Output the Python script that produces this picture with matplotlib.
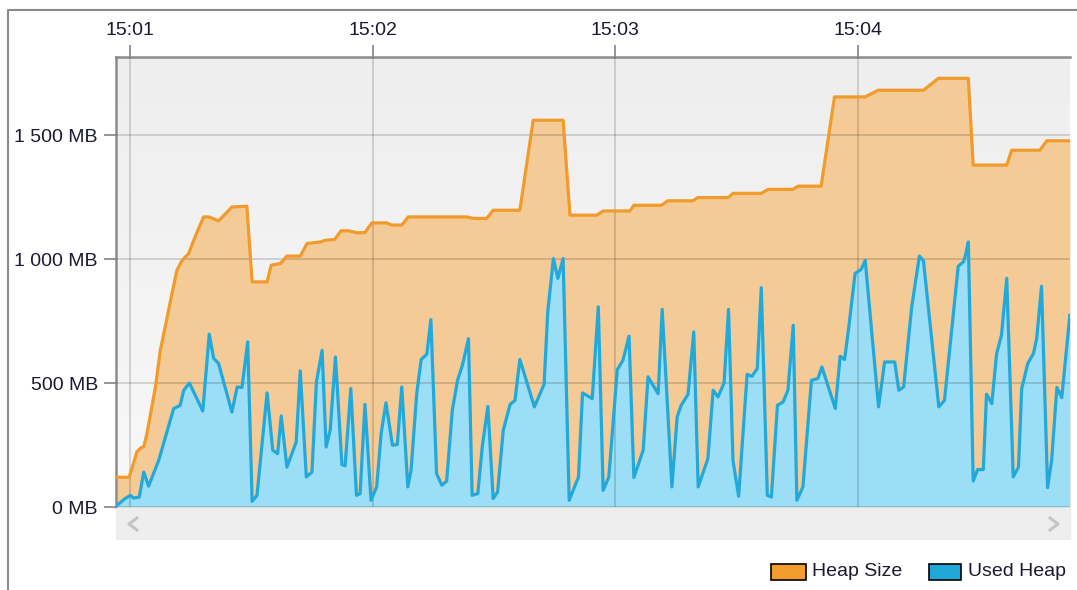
import matplotlib.pyplot as plt
import numpy as np
from matplotlib.patches import Rectangle
from matplotlib.lines import Line2D

# time in seconds after 15:00:00, memory in MB
heap_t = [56.8, 59.8, 61.7, 62.8, 63.4, 64.2, 66.3, 67.5, 68.7, 70.4, 71.6, 72.9, 74.5,
          76.1, 78.2, 79.5, 81.9, 85.2, 88.9, 90.2, 93.9, 94.9, 97.2, 98.8, 102.1, 103.8,
          107.1, 108.3, 110.6, 112.2, 114.1, 116.1, 118.1, 119.8, 123.5, 124.7, 127.2,
          128.8, 143.3, 144.9, 148.2, 149.8, 156.4, 159.7, 167.1, 168.8, 175.4, 177.0,
          183.6, 184.6, 191.4, 193.0, 199.2, 200.4, 207.9, 209.1, 216.1, 217.8, 223.9,
          225.2, 230.9, 234.2, 241.8, 245.0, 256.2, 259.9, 267.3, 268.5, 276.8, 278.0,
          285.0, 286.7, 292.4]
heap_mb = [120, 120, 222, 240, 242, 297, 484, 632, 726, 862, 955, 995, 1022,
           1090, 1170, 1170, 1154, 1210, 1213, 908, 908, 975, 982, 1012, 1012, 1063,
           1069, 1076, 1079, 1114, 1114, 1106, 1107, 1146, 1146, 1137, 1137,
           1170, 1170, 1164, 1164, 1197, 1197, 1560, 1560, 1177, 1177, 1194,
           1194, 1217, 1217, 1235, 1235, 1248, 1248, 1265, 1265, 1281, 1281,
           1294, 1294, 1654, 1654, 1681, 1681, 1729, 1729, 1379, 1379, 1439,
           1439, 1477, 1477]

used_t = [56.8, 58.8, 60.1, 60.9, 62.3, 63.4, 64.6, 67.1, 70.8, 72.4, 73.3, 74.7, 78.0,
          79.6, 80.7, 81.9, 85.2, 86.5, 87.7, 89.1, 90.2, 91.4, 93.9, 95.3, 96.5, 97.4,
          98.8, 100.5, 101.1, 102.1, 103.6, 105.0, 106.1, 107.5, 108.5, 109.5, 110.8,
          112.4, 113.2, 114.6, 116.0, 116.9, 118.1, 119.6, 121.0, 122.1, 123.3, 124.9,
          126.1, 127.2, 128.7, 129.5, 130.9, 132.0, 133.4, 134.4, 135.8, 137.1, 138.3,
          139.7, 141.0, 142.2, 143.7, 144.6, 146.0, 147.1, 148.5, 149.8, 150.9, 152.3,
          154.0, 155.2, 156.4, 160.0, 162.4, 163.3, 164.7, 165.8, 167.1, 168.6, 170.9,
          171.9, 174.3, 175.8, 177.0, 178.4, 180.5, 181.9, 183.4, 184.6, 186.9, 188.1,
          190.6, 191.6, 194.0, 195.3, 196.3, 198.0, 199.4, 200.5, 202.9, 204.2, 205.4,
          206.9, 208.0, 209.1, 210.5, 212.6, 213.8, 215.1, 216.1, 217.6, 218.6, 220.1,
          221.5, 222.7, 224.0, 224.9, 226.4, 228.5, 230.1, 231.1, 234.4, 235.6, 236.7,
          237.7, 239.3, 240.8, 241.8, 245.1, 246.6, 249.1, 250.1, 251.3, 253.3, 255.2,
          256.2, 260.0, 261.4, 263.6, 264.8, 266.1, 266.7, 267.3, 268.5, 269.6, 271.0,
          271.8, 273.1, 274.3, 275.5, 276.8, 278.4, 279.7, 280.5, 282.0, 283.4, 284.2,
          285.4, 286.9, 287.9, 289.2, 290.4, 292.4]
used_mb = [7, 34, 47, 36, 40, 141, 84, 188, 397, 410, 471, 500, 387,
           697, 599, 579, 383, 484, 482, 666, 23, 47, 460, 229, 215, 367,
           161, 236, 262, 549, 121, 141, 504, 632, 242, 309, 605,
           171, 166, 478, 47, 54, 414, 27, 81, 296, 420, 249,
           252, 484, 81, 148, 457, 595, 616, 756, 135, 88, 104,
           390, 511, 572, 679, 47, 54, 242, 406, 34, 61, 309,
           414, 430, 595, 404, 495, 787, 1002, 922, 1002, 27, 121,
           460, 437, 807, 67, 121, 554, 592, 689, 119, 229, 525,
           457, 797, 81, 363, 410, 455, 706, 81, 195, 471, 444,
           500, 797, 188, 43, 535, 527, 558, 885, 47, 40, 410,
           424, 471, 733, 27, 81, 511, 518, 565, 397, 608, 595,
           720, 942, 958, 995, 404, 585, 585, 471, 484, 807, 1012,
           993, 404, 430, 780, 971, 989, 1022, 1069, 105, 151, 151,
           455, 417, 619, 693, 922, 121, 161, 478, 579, 619, 679,
           890, 78, 188, 482, 441, 773]

minute_ticks = [60, 120, 180, 240]
minute_labels = ['15:01', '15:02', '15:03', '15:04']
mb_ticks = [0, 500, 1000, 1500]
mb_labels = ['0 MB', '500 MB', '1 000 MB', '1 500 MB']

W, H = 1077, 590
plt.rcParams['font.family'] = ['Liberation Sans', 'DejaVu Sans']
text_col = '#1a1a30'

fig = plt.figure(figsize=(W / 100, H / 100), dpi=100)
fig.patch.set_facecolor('white')


def fx(px):
    return px / W


def fy(py):
    return 1 - py / H


ax = fig.add_axes([fx(116), fy(507), (1070 - 116) / W, (507 - 57) / H])

# background gradient
grad = np.linspace(0, 1, 256).reshape(-1, 1)
ax.imshow(grad, extent=[0, 1, 0, 1], transform=ax.transAxes, aspect='auto',
          cmap=plt.matplotlib.colors.LinearSegmentedColormap.from_list('bg', ['#f8f8f8', '#eeeeee']),
          origin='lower', zorder=0)

ax.fill_between(heap_t, heap_mb, 0, color='#f4ca96', lw=0, zorder=1)
ax.fill_between(used_t, used_mb, 0, color='#9bdef6', lw=0, zorder=1.1)
ax.plot(heap_t, heap_mb, color='#f09b2b', lw=2.3, zorder=3, solid_joinstyle='round')
ax.plot(used_t, used_mb, color='#22a9da', lw=2.3, zorder=3, solid_joinstyle='round')

ax.set_xlim(56.54, 292.44)
ax.set_ylim(0, 1815)

ax.xaxis.tick_top()
ax.set_xticks(minute_ticks)
ax.set_xticklabels(minute_labels)
ax.set_yticks(mb_ticks)
ax.set_yticklabels(mb_labels)
ax.tick_params(axis='both', length=9, width=1.3, color='#8c8c8c', labelsize=14,
               labelcolor=text_col)
ax.tick_params(axis='x', pad=4)
ax.tick_params(axis='y', pad=4)

ax.set_axisbelow(False)
ax.grid(True, color='#000000', alpha=0.17, lw=1.2)

for side in ['right', 'bottom']:
    ax.spines[side].set_visible(False)
for side in ['left', 'top']:
    ax.spines[side].set_color('#8c8c8c')
    ax.spines[side].set_linewidth(1.8)

# scrollbar strip below the plot
fig.patches.append(Rectangle((fx(116), fy(539)), (1070 - 116) / W, (539 - 508) / H,
                             transform=fig.transFigure, color='#eeeeee', zorder=0))
fig.lines.append(Line2D([fx(137), fx(129), fx(137)], [fy(518), fy(524), fy(530)],
                        transform=fig.transFigure, color='#c4c4c4', lw=2.2))
fig.lines.append(Line2D([fx(1050), fx(1058), fx(1050)], [fy(518), fy(524), fy(530)],
                        transform=fig.transFigure, color='#c4c4c4', lw=2.2))

# outer frame
fig.lines.append(Line2D([fx(8), fx(8), fx(1077)], [fy(590), fy(10), fy(10)],
                        transform=fig.transFigure, color='#8a8a8a', lw=1.5))

# legend
fig.patches.append(Rectangle((fx(771), fy(580)), 35 / W, 16 / H, transform=fig.transFigure,
                             facecolor='#f29d2d', edgecolor='black', lw=1.2))
fig.text(fx(812), fy(572), 'Heap Size', color=text_col, fontsize=14, va='center')
fig.patches.append(Rectangle((fx(929), fy(580)), 32 / W, 16 / H, transform=fig.transFigure,
                             facecolor='#1fa7d8', edgecolor='black', lw=1.2))
fig.text(fx(968), fy(572), 'Used Heap', color=text_col, fontsize=14, va='center')

fig.savefig('out.png', dpi=100)
